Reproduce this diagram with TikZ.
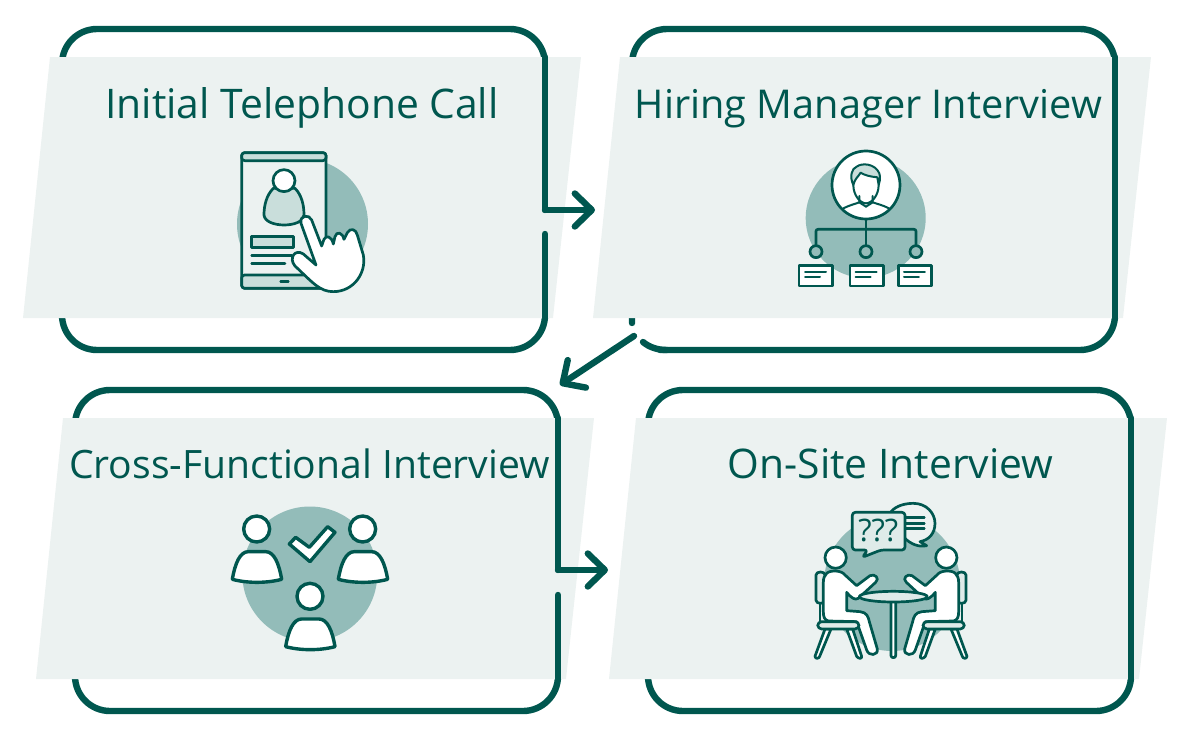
\documentclass[tikz,border=0pt]{standalone}
\usepackage{fontspec}
\setmainfont{Open Sans}
\usetikzlibrary{arrows.meta}

\definecolor{tealdark}{HTML}{00574F}
\definecolor{tealmid}{HTML}{93BCB9}
\definecolor{teallight}{HTML}{C9DEDB}
\definecolor{tealpale}{HTML}{ECF2F1}

\tikzset{
  boxline/.style={draw=tealdark,line width=6.4pt,line cap=round,rounded corners=35pt},
  sideline/.style={draw=tealdark,line width=6.4pt,line cap=round},
  flowarrow/.style={sideline,-{Straight Barb[length=17pt,width=33pt,round]}},
  panel/.style={fill=tealpale},
  cardtitle/.style={text=tealdark,font=\fontsize{#1}{46}\selectfont,inner sep=0pt,anchor=base},
  iconarea/.style n args={2}{shift={(#1,#2)},x=0.3333pt,y=-0.3333pt},
  ink/.style={draw=tealdark,line width=2.7pt,line join=round,line cap=round},
  thinink/.style={draw=tealdark,line width=2pt,line join=round,line cap=round}
}

% the bust of one person in the cross-functional icon
\newcommand{\teambust}[2]{
\begin{scope}[shift={(#1,#2)}]
\draw[ink,line width=3.4pt,fill=white] (95,87) circle[radius=39];
\draw[ink,line width=3.4pt,fill=white] (22,238) .. controls (30,190) and (45,155) .. (70,155) -- (122,155) .. controls (147,155) and (162,190) .. (170,238) .. controls (125,250) and (67,250) .. (22,238) -- cycle;
\end{scope}
}

% one seated person with chair, drawn for the left side
\newcommand{\seated}{
\draw[ink,fill=teallight!60] (33,240) .. controls (33,228) and (60,228) .. (60,240) -- (60,316) .. controls (60,328) and (33,328) .. (33,316) -- cycle;
\draw[ink] (45,328) -- (45,380);
\draw[ink,fill=white] (60,402) -- (30,484) .. controls (30,492) and (42,492) .. (44,484) -- (78,402) -- cycle;
\draw[ink,fill=white] (125,402) -- (155,484) .. controls (160,492) and (172,492) .. (170,484) -- (143,402) -- cycle;
\draw[ink,fill=white] (65,235) .. controls (75,225) and (110,225) .. (120,240) -- (155,272) -- (195,242) .. controls (210,235) and (225,250) .. (212,262) -- (160,310) .. controls (150,316) and (140,310) .. (125,292) -- (125,347) -- (165,350) .. controls (185,352) and (190,365) .. (193,380) -- (217,462) .. controls (220,482) and (192,485) .. (185,465) -- (155,380) -- (70,378) .. controls (58,375) and (55,365) .. (55,350) -- (55,262) .. controls (55,250) and (58,242) .. (65,235) -- cycle;
\draw[ink,fill=teallight!60,rounded corners=4pt] (38,380) rectangle (162,402);
\draw[ink,fill=white] (92,188) circle[radius=32];
}

\begin{document}
\begin{tikzpicture}[x=1pt,y=-1pt]
\useasboundingbox (0,0) rectangle (1200,744);

% outlines, the panels hide their left sides
\draw[boxline] (545,234) -- (545,350) -- (62,350) -- (62,29) -- (545,29) -- (545,210);
\draw[sideline] (643,342) .. controls (649,347) and (657,350) .. (667,350);
\draw[boxline] (660,350) -- (1115,350) -- (1115,29) -- (632,29) -- (632,323);
\draw[boxline] (558,595) -- (558,711) -- (75,711) -- (75,390) -- (558,390) -- (558,570);
\draw[boxline] (1131,500) -- (1131,711) -- (648,711) -- (648,390) -- (1131,390) -- cycle;

\path[panel] (50,57) -- (581,57) -- (553,318) -- (23,318) -- cycle;
\path[panel] (620,57) -- (1151,57) -- (1123,318) -- (593,318) -- cycle;
\path[panel] (63,418) -- (594,418) -- (566,679) -- (36,679) -- cycle;
\path[panel] (636,418) -- (1167,418) -- (1139,679) -- (609,679) -- cycle;

\node[cardtitle=40.8] (telephone) at (302,118) {Initial Telephone Call};
\node[cardtitle=39.7] (hiring) at (868.5,118) {Hiring Manager Interview};
\node[cardtitle=39.1] (crossfunc) at (309.5,478) {Cross-Functional Interview};
\node[cardtitle=40.8] (onsite) at (890.5,478) {On-Site Interview};

% right sides over the panels
\coordinate (telephoneout) at (545,210);
\coordinate (hiringin) at (595,210);
\coordinate (hiringout) at (634,336);
\coordinate (crossin) at (560,385);
\coordinate (crossout) at (558,570);
\coordinate (onsitein) at (608,570);

\draw[sideline] (545,57) -- (telephoneout);
\draw[sideline] (545,234) -- (545,318);
\draw[sideline] (1115,57) -- (1115,318);
\draw[sideline] (558,418) -- (crossout);
\draw[sideline] (558,595) -- (558,679);
\draw[sideline] (1131,418) -- (1131,679);

\draw[flowarrow] (telephoneout) -- (hiringin);
\draw[flowarrow] (hiringout) -- (crossin);
\draw[flowarrow] (crossout) -- (onsitein);

% telephone icon
\fill[tealmid] (302.5,224) circle[radius=65.5];
\begin{scope}[iconarea={220}{140}]
\draw[ink,fill=tealpale,rounded corners=3pt] (65,38) rectangle (318,445);
\draw[ink,fill=teallight,rounded corners=3pt] (65,38) rectangle (318,62);
\draw[ink,fill=teallight,rounded corners=3pt] (65,405) rectangle (318,445);
\draw[ink] (182,424) -- (205,424);
\draw[ink,fill=teallight] (160,145) .. controls (140,165) and (132,195) .. (132,225) .. controls (135,265) and (250,265) .. (252,225) .. controls (252,195) and (245,165) .. (225,145) -- cycle;
\draw[ink,fill=white] (192,122) circle[radius=33];
\draw[ink,fill=teallight] (95,290) rectangle (220,322);
\draw[ink] (95,347) -- (215,347);
\draw[ink] (95,370) -- (195,370);
\draw[ink,fill=white] (288,375) -- (243,250) .. controls (238,225) and (268,222) .. (275,240) -- (305,318) -- (312,298) .. controls (318,285) and (335,288) .. (340,312) -- (345,290) .. controls (350,272) and (368,278) .. (372,298) -- (382,278) .. controls (392,262) and (408,268) .. (412,285) -- (430,345) .. controls (440,400) and (400,455) .. (340,455) .. controls (300,455) and (280,430) .. (225,378) .. controls (205,355) and (225,325) .. (250,342) -- cycle;
\end{scope}

% hiring icon
\fill[tealmid] (865.7,218) circle[radius=60];
\begin{scope}[iconarea={790}{140}]
\draw[ink] (228,237) -- (228,318);
\draw[ink,rounded corners=2pt] (78,318) -- (78,268) -- (378,268) -- (378,318);
\draw[ink,fill=white] (228,135) circle[radius=102];
\draw[thinink,fill=teallight] (190,135) .. controls (178,110) and (185,85) .. (200,80) .. controls (215,68) and (255,70) .. (268,100) .. controls (272,115) and (270,125) .. (266,135) -- (262,112) .. controls (240,110) and (222,105) .. (212,98) .. controls (205,110) and (195,115) .. (190,135) -- cycle;
\draw[thinink] (190,135) .. controls (190,165) and (210,190) .. (228,190) .. controls (246,190) and (266,165) .. (266,135);
\draw[thinink] (160,205) .. controls (180,195) and (195,192) .. (208,187) -- (208,168);
\draw[thinink] (297,205) .. controls (277,195) and (262,192) .. (248,187) -- (248,168);
\draw[thinink] (208,187) -- (228,200) -- (248,187);
\draw[ink,fill=tealmid] (78,335) circle[radius=18];
\draw[ink,fill=tealmid] (228,335) circle[radius=18];
\draw[ink,fill=tealmid] (378,335) circle[radius=18];
\draw[ink,fill=white] (27,377) rectangle (128,438);
\draw[ink,fill=white] (180,377) rectangle (280,438);
\draw[ink,fill=white] (325,377) rectangle (425,438);
\draw[thinink] (45,397) -- (108,397) (45,412) -- (90,412);
\draw[thinink] (197,397) -- (260,397) (197,412) -- (242,412);
\draw[thinink] (342,397) -- (405,397) (342,412) -- (387,412);
\end{scope}

% cross-functional icon
\fill[tealmid] (309.8,574) circle[radius=67.5];
\begin{scope}[iconarea={225}{500}]
\teambust{0}{0}
\teambust{318}{0}
\teambust{160}{202}
\draw[ink,fill=white,line width=3.4pt] (193,132) -- (212,112) -- (253,142) -- (308,80) -- (330,97) -- (255,185) -- cycle;
\end{scope}

% on-site icon
\fill[tealmid] (892,583) circle[radius=68];
\begin{scope}[iconarea={805}{495}]
\seated
\begin{scope}[shift={(516,0)},x=-0.3333pt]
\seated
\end{scope}
\draw[ink,fill=white] (258,318) -- (258,482) .. controls (258,490) and (272,490) .. (272,482) -- (272,318) -- cycle;
\draw[ink,fill=teallight!60] (265,305) ellipse[x radius=102,y radius=16];
\draw[ink,fill=tealpale] (258,50) .. controls (275,30) and (305,25) .. (325,25) .. controls (365,25) and (390,55) .. (390,85) .. controls (390,115) and (372,135) .. (345,140) -- (365,152) .. controls (340,158) and (315,145) .. (300,130) -- cycle;
\draw[ink] (300,68) -- (358,68) (300,85) -- (358,85) (300,100) -- (358,100);
\draw[ink,fill=teallight!60,rounded corners=3pt] (142,52) -- (300,52) -- (300,165) -- (228,165) -- (172,187) -- (188,165) -- (142,165) -- cycle;
\node[text=tealdark,font=\fontsize{31}{36}\selectfont,inner sep=0pt] (questions) at (220,107) {???};
\end{scope}

\end{tikzpicture}
\end{document}
